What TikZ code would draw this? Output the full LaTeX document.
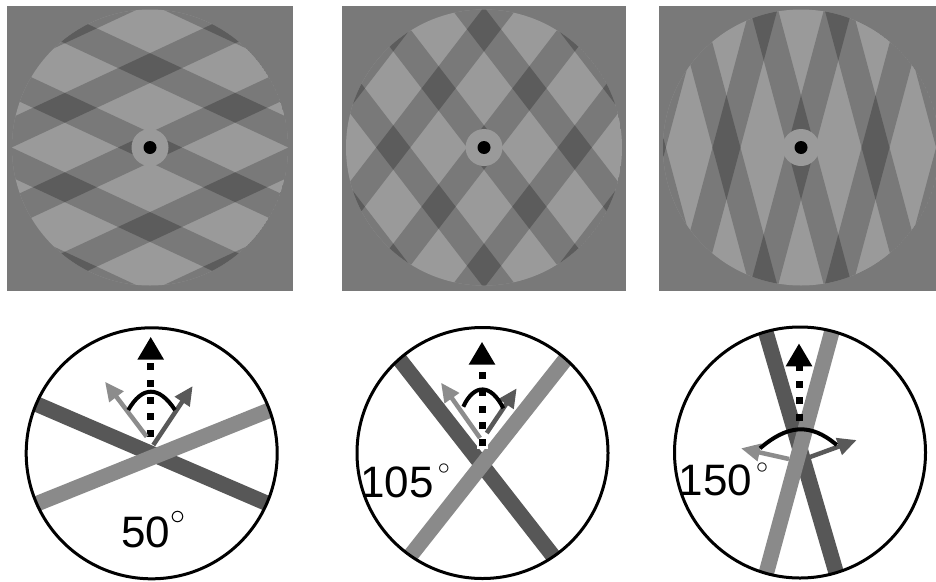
\documentclass[tikz,border=0pt]{standalone}
\usepackage{fontspec}
\setmainfont{Liberation Sans}
\usetikzlibrary{arrows.meta}
\definecolor{bgc}{gray}{0.475}
\definecolor{lightc}{gray}{0.605}
\definecolor{darkc}{gray}{0.36}
\definecolor{barD}{gray}{0.34}
\definecolor{barL}{gray}{0.54}
\definecolor{compL}{gray}{0.55}
\definecolor{compD}{gray}{0.35}
\newcommand\degring[2]{\raisebox{#2}{\scalebox{#1}{\fontsize{10}{12}\selectfont$\circ$}}}
\tikzset{
  ringline/.style={line width=3pt, draw=black},
  darkbar/.style={draw=barD, line width=15.5pt},
  lightbar/.style={draw=barL, line width=15.5pt},
  motion/.style={draw=black, line width=7pt, dash pattern=on 7pt off 9.7pt, -{Triangle[length=23pt,width=25pt]}},
  comp/.style={line width=4.5pt, -{Triangle[length=19pt,width=17pt]}},
  halo/.style={draw=white, line width=11pt},
  angarc/.style={draw=black, line width=4pt},
  lbl/.style={font=\fontsize{44}{44}\selectfont, inner sep=0pt, anchor=base west},
}
\begin{document}
\begin{tikzpicture}[x=1pt,y=1pt]
\clip (0,0) rectangle (936,-581);
\fill[white] (0,0) rectangle (936,-581);
% ---------- top: plaid stimuli ----------
\foreach \cx/\xa/\xb/\th in {150/7/292.5/25, 484/342/626/52.5, 801/658.5/943/75} {
  \fill[bgc] (\xa,-6) rectangle (\xb,-291);
  \begin{scope}
    \clip (\cx,-147.5) circle (138);
    \fill[lightc] (\cx,-147.5) circle (138);
    \begin{scope}[shift={(\cx,-147.5)}]
      \fill[bgc,rotate=\th] foreach \k in {-3,...,3} {(-220,\k*72-13.5) rectangle (220,\k*72+13.5)};
      \fill[bgc,rotate=-\th] foreach \k in {-3,...,3} {(-220,\k*72-13.5) rectangle (220,\k*72+13.5)};
      \begin{scope}
        \clip[rotate=\th] foreach \k in {-3,...,3} {(-220,\k*72-13.5) rectangle (220,\k*72+13.5)};
        \fill[darkc,rotate=-\th] foreach \k in {-3,...,3} {(-220,\k*72-13.5) rectangle (220,\k*72+13.5)};
      \end{scope}
    \end{scope}
  \end{scope}
  \fill[lightc] (\cx,-147.5) circle (18.5);
  \fill[black] (\cx,-147.5) circle (6.5);
}
% ---------- bottom left: 50 ----------
\begin{scope}
  \clip (151.7,-453.3) circle (125.5);
  \draw[darkbar] (156.3,-455.7) ++(156.7:170) -- ++(-23.3:340);
  \draw[lightbar] (156.3,-455.7) ++(201.9:170) -- ++(21.9:340);
\end{scope}
\coordinate (m1a) at (150.7,-437);
\coordinate (m1b) at (150.7,-336.7);
\draw[motion] (m1a) -- (m1b);
\draw[comp,compL] (146.7,-436.7) -- (105,-381.7);
\draw[comp,compD] (153.3,-445) -- (192.7,-386);
\draw[angarc] (128.3,-410) .. controls (142.3,-385.6) and (159,-385.6) .. (175,-410);
\draw[ringline] (151.7,-453.3) circle (125.5);
\node[lbl] (t1) at (121.1,-547) {50\kern0.2pt\degring{3.0}{22.5pt}};
% ---------- bottom middle: 105 ----------
\begin{scope}
  \clip (482.5,-453) circle (125.5);
  \draw[darkbar] (482,-465) ++(128:170) -- ++(-52:340);
  \draw[lightbar] (482,-465) ++(231.7:170) -- ++(51.7:340);
\end{scope}
\draw[halo] (482,-449) -- (482,-430);
\draw[halo, line width=10pt] (480,-438) -- (447,-391.3);
\draw[motion] (482,-446) -- (482,-341.7);
\draw[comp,compL] (480,-438) -- (441,-382.7);
\draw[comp,compD] (486.7,-433) -- (516.7,-388.3);
\draw[angarc] (463.3,-406.7) .. controls (474,-383.4) and (491,-383.4) .. (503.3,-408.3);
\draw[ringline] (482.5,-453) circle (125.5);
\node[lbl] (t2) at (360.2,-497) {105\kern4.1pt\degring{2.4}{23pt}};
% ---------- bottom right: 150 ----------
\begin{scope}
  \clip (800,-452.5) circle (125.5);
  \draw[darkbar] (800,-449) ++(106.3:170) -- ++(-73.7:340);
  \draw[lightbar] (800,-449) ++(254.8:170) -- ++(74.8:340);
\end{scope}
\draw[motion] (799,-421) -- (799,-343.3);
\draw[comp,compL] (789,-459) -- (741,-448.3);
\draw[comp,compD] (810,-457) -- (856.7,-440);
\draw[angarc] (760,-448.3) .. controls (787,-425.3) and (809.7,-422) .. (836.7,-445);
\draw[ringline] (800,-452.5) circle (125.5);
\node[lbl] (t3) at (678.5,-495) {150\kern4.1pt\degring{2.4}{22pt}};
\end{tikzpicture}
\end{document}
